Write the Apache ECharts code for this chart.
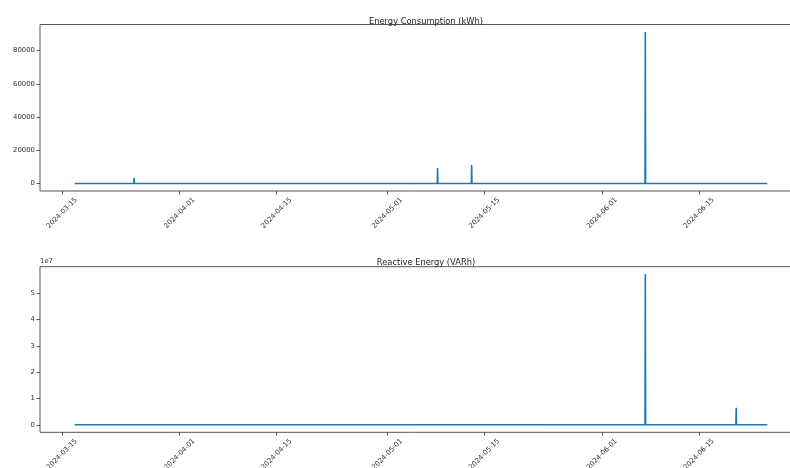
<!DOCTYPE html>
<html>
<head>
<meta charset="utf-8">
<script src="https://cdn.jsdelivr.net/npm/echarts@6/dist/echarts.min.js"></script>
<style>html,body{margin:0;padding:0;background:#fff;}#c{width:790px;height:468px;}</style>
</head>
<body>
<div id="c"></div>
<script>
// ---- data ----
const energyTimes = ['2024-03-16 20:00','2024-03-25 09:00','2024-03-25 10:00','2024-03-25 11:00',
  '2024-05-08 05:00','2024-05-08 06:00','2024-05-08 07:00',
  '2024-05-13 03:00','2024-05-13 04:00','2024-05-13 05:00',
  '2024-06-07 05:00','2024-06-07 06:00','2024-06-07 07:00','2024-06-24 21:00'];
const energyValues = [50, 50, 3400, 50, 50, 9300, 50, 50, 11200, 50, 50, 91200, 50, 50];

const reactiveTimes = ['2024-03-16 20:00','2024-06-07 05:00','2024-06-07 06:00','2024-06-07 07:00',
  '2024-06-20 08:00','2024-06-20 09:00','2024-06-20 10:00','2024-06-24 21:00'];
const reactiveValues = [20000, 20000, 57200000, 20000, 20000, 6500000, 20000, 20000];

const dateTicks = ['2024-03-15','2024-04-01','2024-04-15','2024-05-01','2024-05-15','2024-06-01','2024-06-15'];
const energyTicks = [0, 20000, 40000, 60000, 80000];
const reactiveTicks = [0, 10000000, 20000000, 30000000, 40000000, 50000000];
const titles = ['Energy Consumption (kWh)', 'Reactive Energy (VARh)'];

// ---- build ----
const FONT = 'DejaVu Sans';
const tickTs = dateTicks.map(d => +echarts.time.parse(d));
const pad = v => { const r = v.max - v.min; return { min: v.min - 0.05 * r, max: v.max + 0.05 * r }; };
const toPairs = (t, v) => t.map((d, i) => [+echarts.time.parse(d), v[i]]);

function xAxis(gi) {
  return {
    type: 'time', gridIndex: gi,
    min: v => pad(v).min, max: v => pad(v).max,
    axisLine: { show: false, onZero: false },
    splitLine: { show: false },
    axisTick: { show: true, customValues: tickTs, length: 3.5, lineStyle: { color: '#333', width: 0.8 } },
    axisLabel: {
      customValues: tickTs, rotate: 45, align: 'center', verticalAlign: 'middle', margin: 22,
      fontFamily: FONT, fontSize: 6.9, color: '#333',
      formatter: '{yyyy}-{MM}-{dd}'
    }
  };
}
function yAxis(gi, ticks, fmt, name) {
  return {
    type: 'value', gridIndex: gi,
    min: v => pad(v).min, max: v => pad(v).max,
    name: name || '', nameLocation: 'end', nameGap: 2,
    nameTextStyle: { fontFamily: FONT, fontSize: 6.9, color: '#333', align: 'left', verticalAlign: 'bottom' },
    axisLine: { show: false, onZero: false },
    splitLine: { show: false },
    axisTick: { show: true, customValues: ticks, length: 3.5, lineStyle: { color: '#333', width: 0.8 } },
    axisLabel: { customValues: ticks, margin: 5, fontFamily: FONT, fontSize: 6.9, color: '#333', formatter: fmt }
  };
}

const chart = echarts.init(document.getElementById('c'), null, { renderer: 'canvas' });
chart.setOption({
  animation: false,
  backgroundColor: '#fff',
  title: [
    { text: titles[0], left: 421, top: 13, textAlign: 'center', textStyle: { fontFamily: FONT, fontSize: 8.3, fontWeight: 'normal', color: '#222' } },
    { text: titles[1], left: 421, top: 254, textAlign: 'center', textStyle: { fontFamily: FONT, fontSize: 8.3, fontWeight: 'normal', color: '#222' } }
  ],
  grid: [
    { left: 40, top: 24.5, width: 762, height: 166.5, outerBoundsMode: 'none', containLabel: false, show: true, borderColor: '#555', borderWidth: 1, backgroundColor: 'transparent' },
    { left: 40, top: 266.7, width: 762, height: 165.6, outerBoundsMode: 'none', containLabel: false, show: true, borderColor: '#555', borderWidth: 1, backgroundColor: 'transparent' }
  ],
  xAxis: [xAxis(0), xAxis(1)],
  yAxis: [
    yAxis(0, energyTicks, v => String(v)),
    yAxis(1, reactiveTicks, v => String(Math.round(v / 1e7)), '1e7')
  ],
  series: [
    { type: 'line', xAxisIndex: 0, yAxisIndex: 0, data: toPairs(energyTimes, energyValues), showSymbol: false, lineStyle: { color: '#1f77b4', width: 1.6 } },
    { type: 'line', xAxisIndex: 1, yAxisIndex: 1, data: toPairs(reactiveTimes, reactiveValues), showSymbol: false, lineStyle: { color: '#1f77b4', width: 1.6 } }
  ]
});
</script>
</body>
</html>
